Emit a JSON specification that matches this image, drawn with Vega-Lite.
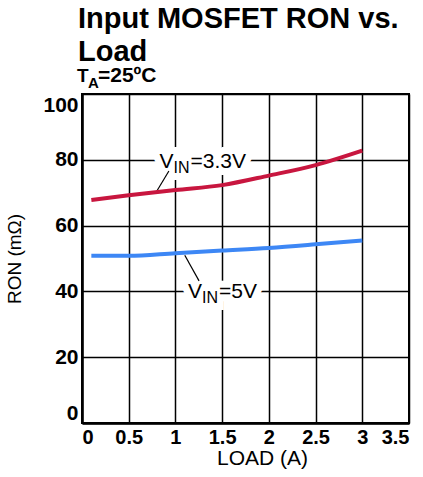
{
  "$schema": "https://vega.github.io/schema/vega-lite/v6.json",
  "width": 327,
  "height": 329,
  "autosize": "none",
  "padding": {"left": 82, "top": 94, "right": 14, "bottom": 54},
  "title": {
    "text": ["Input MOSFET RON vs.", "Load"],
    "anchor": "start",
    "frame": "group",
    "font": "Liberation Sans",
    "fontSize": 29,
    "fontWeight": "bold",
    "lineHeight": 33,
    "color": "black",
    "dx": -4,
    "dy": 28,
    "offset": 26
  },
  "config": {
    "font": "Liberation Sans",
    "view": {"stroke": "black", "strokeWidth": 2}
  },
  "datasets": {
    "curves": [
      {"load": 0.1, "ron": 67.8, "vin": "3.3V"},
      {"load": 0.5, "ron": 69.2, "vin": "3.3V"},
      {"load": 1.0, "ron": 70.8, "vin": "3.3V"},
      {"load": 1.5, "ron": 72.3, "vin": "3.3V"},
      {"load": 2.0, "ron": 75.2, "vin": "3.3V"},
      {"load": 2.5, "ron": 78.4, "vin": "3.3V"},
      {"load": 3.0, "ron": 82.8, "vin": "3.3V"},
      {"load": 0.1, "ron": 50.8, "vin": "5V"},
      {"load": 0.5, "ron": 50.8, "vin": "5V"},
      {"load": 1.0, "ron": 51.6, "vin": "5V"},
      {"load": 1.5, "ron": 52.4, "vin": "5V"},
      {"load": 2.0, "ron": 53.2, "vin": "5V"},
      {"load": 2.5, "ron": 54.3, "vin": "5V"},
      {"load": 3.0, "ron": 55.5, "vin": "5V"}
    ],
    "labels": [
      {"x": 0.83, "y": 77.5, "v": "V", "sub": "IN", "rest": "=3.3V"},
      {"x": 1.135, "y": 38, "v": "V", "sub": "IN", "rest": "=5V"}
    ],
    "leaders": [
      {"x": 0.79, "y": 70.0, "x2": 0.93, "y2": 76.6},
      {"x": 1.10, "y": 51.0, "x2": 1.253, "y2": 43.2}
    ],
    "subtitle": [
      {"x": 0, "y": 100, "t": "T", "s": "A", "r": "=25ºC"}
    ]
  },
  "encoding": {
    "x": {
      "field": "load", "type": "quantitative",
      "scale": {"domain": [0, 3.5], "nice": false},
      "axis": {
        "title": "LOAD (A)",
        "values": [0, 0.5, 1, 1.5, 2, 2.5, 3, 3.5],
        "format": "~g",
        "labelFontSize": 20, "labelFontWeight": "bold", "labelColor": "black", "labelPadding": 4,
        "ticks": false,
        "grid": true, "gridColor": "black", "gridWidth": 1.5, "gridOpacity": 1,
        "domainColor": "black", "domainWidth": 2.5,
        "titleFontSize": 21, "titleFontWeight": "normal", "titleColor": "black",
        "titleX": 180, "titlePadding": 0
      }
    },
    "y": {
      "field": "ron", "type": "quantitative",
      "scale": {"domain": [0, 100], "nice": false},
      "axis": {
        "title": "RON (mΩ)",
        "values": [0, 20, 40, 60, 80, 100],
        "format": "d",
        "labelFlush": true,
        "labelFontSize": 21, "labelFontWeight": "bold", "labelColor": "black", "labelPadding": 4,
        "ticks": false,
        "grid": true, "gridColor": "black", "gridWidth": 1.5, "gridOpacity": 1,
        "domainColor": "black", "domainWidth": 2.5,
        "titleFontSize": 19, "titleFontWeight": "normal", "titleColor": "black",
        "titlePadding": 18
      }
    }
  },
  "layer": [
    {
      "data": {"name": "labels"},
      "mark": {"type": "text", "align": "left", "baseline": "alphabetic", "fontSize": 21, "stroke": "white", "strokeWidth": 14, "fill": "white"},
      "encoding": {"x": {"field": "x", "type": "quantitative"}, "y": {"field": "y", "type": "quantitative"}, "text": {"field": "v"}}
    },
    {
      "data": {"name": "labels"},
      "mark": {"type": "text", "align": "left", "baseline": "alphabetic", "fontSize": 16, "dx": 14, "dy": 5, "stroke": "white", "strokeWidth": 14, "fill": "white"},
      "encoding": {"x": {"field": "x", "type": "quantitative"}, "y": {"field": "y", "type": "quantitative"}, "text": {"field": "sub"}}
    },
    {
      "data": {"name": "labels"},
      "mark": {"type": "text", "align": "left", "baseline": "alphabetic", "fontSize": 21, "dx": 31, "stroke": "white", "strokeWidth": 14, "fill": "white"},
      "encoding": {"x": {"field": "x", "type": "quantitative"}, "y": {"field": "y", "type": "quantitative"}, "text": {"field": "rest"}}
    },
    {
      "data": {"name": "leaders"},
      "mark": {"type": "rule", "color": "black", "strokeWidth": 1.2},
      "encoding": {
        "x": {"field": "x", "type": "quantitative"}, "y": {"field": "y", "type": "quantitative"},
        "x2": {"field": "x2"}, "y2": {"field": "y2"}
      }
    },
    {
      "data": {"name": "curves"},
      "mark": {"type": "line", "strokeWidth": 4, "interpolate": "monotone"},
      "encoding": {
        "color": {"field": "vin", "type": "nominal", "scale": {"domain": ["3.3V", "5V"], "range": ["#C8163F", "#3D87F5"]}, "legend": null}
      }
    },
    {
      "data": {"name": "labels"},
      "mark": {"type": "text", "align": "left", "baseline": "alphabetic", "fontSize": 21, "fill": "black"},
      "encoding": {"x": {"field": "x", "type": "quantitative"}, "y": {"field": "y", "type": "quantitative"}, "text": {"field": "v"}}
    },
    {
      "data": {"name": "labels"},
      "mark": {"type": "text", "align": "left", "baseline": "alphabetic", "fontSize": 16, "dx": 14, "dy": 5, "fill": "black"},
      "encoding": {"x": {"field": "x", "type": "quantitative"}, "y": {"field": "y", "type": "quantitative"}, "text": {"field": "sub"}}
    },
    {
      "data": {"name": "labels"},
      "mark": {"type": "text", "align": "left", "baseline": "alphabetic", "fontSize": 21, "dx": 31, "fill": "black"},
      "encoding": {"x": {"field": "x", "type": "quantitative"}, "y": {"field": "y", "type": "quantitative"}, "text": {"field": "rest"}}
    },
    {
      "data": {"name": "subtitle"},
      "mark": {"type": "text", "align": "left", "baseline": "alphabetic", "fontSize": 19, "fontWeight": "bold", "dx": -5, "dy": -12, "fill": "black", "clip": false},
      "encoding": {"x": {"field": "x", "type": "quantitative"}, "y": {"field": "y", "type": "quantitative"}, "text": {"field": "t"}}
    },
    {
      "data": {"name": "subtitle"},
      "mark": {"type": "text", "align": "left", "baseline": "alphabetic", "fontSize": 15, "fontWeight": "bold", "dx": 6, "dy": -6, "fill": "black", "clip": false},
      "encoding": {"x": {"field": "x", "type": "quantitative"}, "y": {"field": "y", "type": "quantitative"}, "text": {"field": "s"}}
    },
    {
      "data": {"name": "subtitle"},
      "mark": {"type": "text", "align": "left", "baseline": "alphabetic", "fontSize": 21, "fontWeight": "bold", "dx": 16, "dy": -12, "fill": "black", "clip": false},
      "encoding": {"x": {"field": "x", "type": "quantitative"}, "y": {"field": "y", "type": "quantitative"}, "text": {"field": "r"}}
    }
  ]
}
